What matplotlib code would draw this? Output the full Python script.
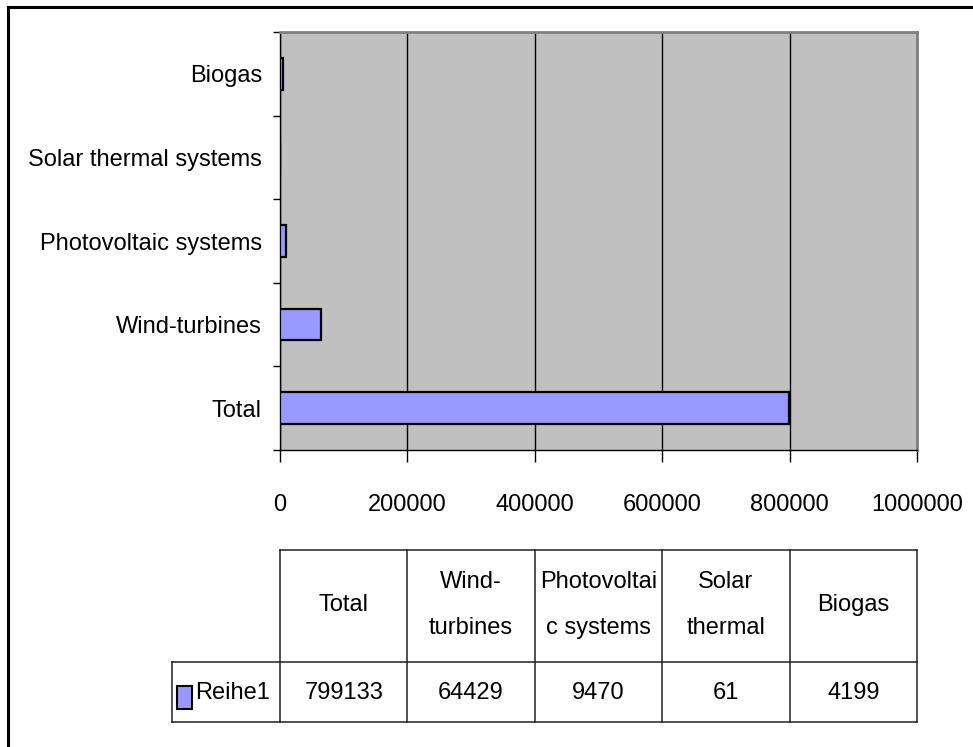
import matplotlib
matplotlib.use("Agg")
import matplotlib.pyplot as plt
from matplotlib.lines import Line2D
from matplotlib.patches import Rectangle
from matplotlib.ticker import FixedLocator, FuncFormatter

plt.rcParams['font.family'] = ['Liberation Sans', 'DejaVu Sans']

# ---- data ----
categories = ["Total", "Wind-turbines", "Photovoltaic systems", "Solar thermal systems", "Biogas"]
table_headers = ["Total", "Wind-\nturbines", "Photovoltai\nc systems", "Solar\nthermal", "Biogas"]
series_name = "Reihe1"
values = [799133, 64429, 9470, 61, 4199]
x_ticks = [0, 200000, 400000, 600000, 800000, 1000000]

W, H = 973, 747
DPI = 100
fig = plt.figure(figsize=(W / DPI, H / DPI), dpi=DPI)
fig.patch.set_facecolor("white")

# plot area in pixels
px_l, px_r, px_t, px_b = 280, 917, 32, 450
ax = fig.add_axes([px_l / W, 1 - px_b / H, (px_r - px_l) / W, (px_b - px_t) / H])
ax.set_facecolor("#C0C0C0")

ypos = list(range(len(categories)))
ax.barh(ypos, values, height=0.38, color="#9999FF", edgecolor="black", linewidth=1.6, zorder=3)

ax.set_xlim(0, 1000000)
ax.set_ylim(-0.5, len(categories) - 0.5)

ax.xaxis.set_major_locator(FixedLocator(x_ticks))
ax.xaxis.set_major_formatter(FuncFormatter(lambda v, p: "%d" % v))
ax.grid(axis="x", color="black", linewidth=1.0, zorder=1)
ax.set_axisbelow(True)

ax.set_yticks(ypos)
ax.set_yticklabels(categories)
ax.set_yticks([i - 0.5 for i in range(len(categories) + 1)], minor=True)
ax.tick_params(axis="y", which="major", length=0, pad=13, labelsize=17)
ax.tick_params(axis="y", which="minor", length=5, width=1.0, color="black", direction="out")
ax.tick_params(axis="x", which="major", length=8.5, width=1.0, color="black", direction="out",
               pad=23, labelsize=17)

for s in ("top", "right"):
    ax.spines[s].set_color("#808080")
    ax.spines[s].set_linewidth(2.0)
for s in ("left", "bottom"):
    ax.spines[s].set_color("black")
    ax.spines[s].set_linewidth(1.0)

# ---- overlay for data table and frame ----
ov = fig.add_axes([0, 0, 1, 1], zorder=5)
ov.set_xlim(0, W)
ov.set_ylim(H, 0)
ov.axis("off")
ov.patch.set_alpha(0)

# outer frame (only left and top visible)
ov.add_line(Line2D([8, 8], [7, H], color="black", lw=2.2))
ov.add_line(Line2D([8, W], [7, 7], color="black", lw=2.2))

ncol = len(categories)
col_w = (px_r - px_l) / ncol
edges = [px_l + i * col_w for i in range(ncol + 1)]
t_top, t_mid, t_bot = 550, 662, 722
lab_l = 172
lc = "#202020"
lw = 1.1
# horizontal lines
ov.add_line(Line2D([px_l, px_r], [t_top, t_top], color=lc, lw=lw))
ov.add_line(Line2D([lab_l, px_r], [t_mid, t_mid], color=lc, lw=lw))
ov.add_line(Line2D([lab_l, px_r], [t_bot, t_bot], color=lc, lw=lw))
# vertical lines
for e in edges:
    ov.add_line(Line2D([e, e], [t_top, t_bot], color=lc, lw=lw))
ov.add_line(Line2D([lab_l, lab_l], [t_mid, t_bot], color=lc, lw=lw))

hy = 605
dy = (t_mid + t_bot) / 2 + 1
for i in range(ncol):
    cx = (edges[i] + edges[i + 1]) / 2
    ov.text(cx, hy, table_headers[i], ha="center", va="center", fontsize=17, linespacing=2.4)
    ov.text(cx, dy, str(values[i]), ha="center", va="center", fontsize=17)

# legend key in table
ov.add_patch(Rectangle((177, 686), 15, 23, facecolor="#9999FF", edgecolor="black", lw=1.5))
ov.text(195, dy, series_name, ha="left", va="center", fontsize=17)

fig.savefig("out.png", dpi=DPI)
